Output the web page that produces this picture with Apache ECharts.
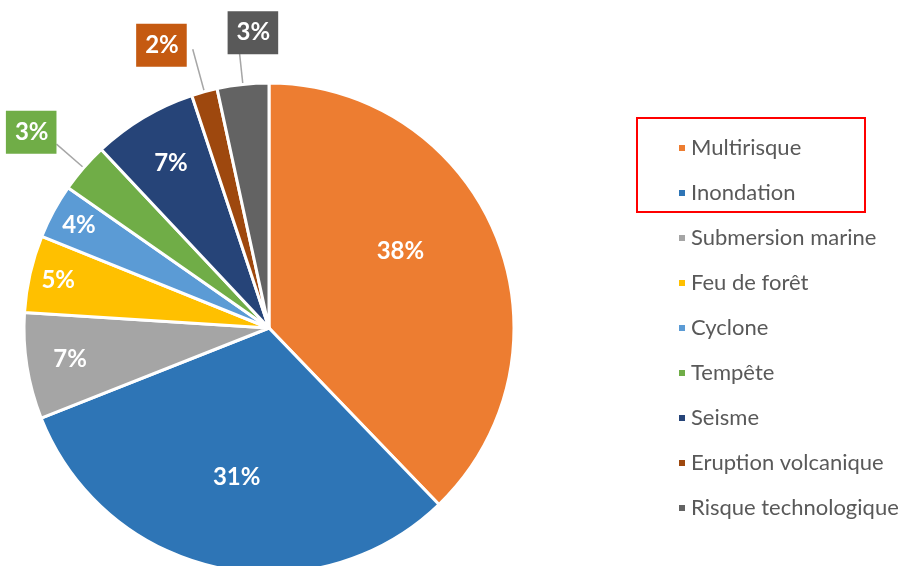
<!DOCTYPE html>
<html>
<head>
<meta charset="utf-8">
<script src="https://cdn.jsdelivr.net/npm/echarts@6/dist/echarts.min.js"></script>
<style>
  html, body { margin: 0; padding: 0; background: #fff; }
  #main { width: 902px; height: 566px; }
</style>
</head>
<body>
<div id="main"></div>
<script>
// data (share of each risk, in %)
var categories = ['Multirisque', 'Inondation', 'Submersion marine', 'Feu de forêt', 'Cyclone',
                  'Tempête', 'Seisme', 'Eruption volcanique', 'Risque technologique'];
var shares = [37.8, 31.2, 7.0, 5.1, 3.6, 3.3, 6.9, 1.7, 3.4];
var colors = ['#ED7D31', '#2E75B6', '#A5A5A5', '#FFC000', '#5B9BD5',
              '#70AD47', '#264478', '#9E480E', '#636363'];

// inside labels: how deep in the slice (fraction of the radius) the text sits
var labelDepth = {
  'Multirisque': 0.61,
  'Inondation': 0.61,
  'Seisme': 0.77,
  'Submersion marine': 0.81,
  'Feu de forêt': 0.87,
  'Cyclone': 0.87
};
// small nudges of single labels, like Excel's "best fit"
var labelNudge = {
  'Multirisque': [-10, -20],
  'Tempête': [5, -12],
  'Eruption volcanique': [-1, -4],
  'Risque technologique': [45, -8]
};
// labels drawn outside in a coloured box
var boxLabels = {
  'Tempête': { bg: '#70AD47', line: 36 },
  'Eruption volcanique': { bg: '#C55A11', line: 44 },
  'Risque technologique': { bg: '#595959', line: 44 }
};

var CENTER = [269, 328];
var R = 245;
var FONT = 'Lato, "Open Sans", sans-serif';

function pct(p) { return Math.round(p.percent) + '%'; }

function nudge(p) {
  var n = labelNudge[categories[p.dataIndex]];
  return n ? { dx: n[0], dy: n[1] } : {};
}

var mainData = categories.map(function (name, i) {
  var item = { name: name, value: shares[i], itemStyle: { color: colors[i] } };
  var b = boxLabels[name];
  if (b) {
    item.label = {
      show: true,
      position: 'outside',
      formatter: pct,
      color: '#fff',
      fontFamily: FONT,
      fontWeight: 'bold',
      fontSize: 24,
      backgroundColor: b.bg,
      padding: [10, 8, 9, 9]
    };
    item.labelLine = { show: true, length: b.line };
  } else {
    item.label = { show: false };
    item.labelLine = { show: false };
  }
  return item;
});

// transparent copies of the pie, only used to place the inside labels
function ghostSeries(depth) {
  return {
    type: 'pie',
    center: CENTER,
    radius: [(2 * depth - 1) * R, R],
    startAngle: 90,
    clockwise: true,
    silent: true,
    avoidLabelOverlap: false,
    emphasis: { disabled: true },
    label: {
      position: 'inside',
      formatter: pct,
      color: '#fff',
      fontFamily: FONT,
      fontWeight: 'bold',
      fontSize: 24
    },
    labelLine: { show: false },
    labelLayout: nudge,
    data: categories.map(function (name, i) {
      return {
        name: name,
        value: shares[i],
        itemStyle: { color: 'rgba(0,0,0,0)', borderWidth: 0 },
        label: { show: labelDepth[name] === depth }
      };
    })
  };
}

var depths = [];
Object.keys(labelDepth).forEach(function (k) {
  if (depths.indexOf(labelDepth[k]) < 0) depths.push(labelDepth[k]);
});

var myChart = echarts.init(document.getElementById('main'));
var option = {
  animation: false,
  legend: {
    orient: 'vertical',
    left: 672,
    top: 132,
    icon: 'rect',
    itemWidth: 8,
    itemHeight: 8,
    itemGap: 23,
    selectedMode: false,
    data: categories,
    textStyle: { color: '#595959', fontFamily: FONT, fontSize: 22, lineHeight: 20 }
  },
  graphic: [{
    type: 'rect',
    shape: { x: 637, y: 118, width: 228, height: 94 },
    style: { fill: 'none', stroke: '#FF0000', lineWidth: 2 }
  }],
  series: [
    {
      type: 'pie',
      center: CENTER,
      radius: [0, R],
      startAngle: 90,
      clockwise: true,
      avoidLabelOverlap: false,
      emphasis: { disabled: true },
      itemStyle: { borderColor: '#fff', borderWidth: 3 },
      labelLine: {
        length2: 0,
        lineStyle: { color: '#A6A6A6', width: 1.5 }
      },
      labelLayout: nudge,
      data: mainData
    }
  ].concat(depths.map(ghostSeries))
};
myChart.setOption(option);
</script>
</body>
</html>
